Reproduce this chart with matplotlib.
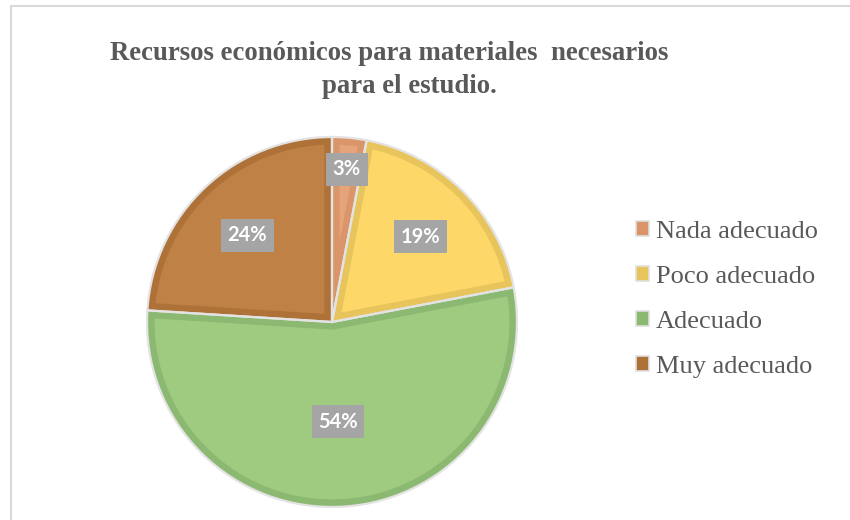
import matplotlib.pyplot as plt
from matplotlib.patches import Patch, Wedge
import numpy as np

# data
categorias = ["Nada adecuado", "Poco adecuado", "Adecuado", "Muy adecuado"]
porcentajes = [3, 19, 54, 24]
etiquetas = ["3%", "19%", "54%", "24%"]

relleno = ["#E5A47A", "#FDD868", "#9FCB80", "#BF8146"]
borde = ["#DA9669", "#E8C45C", "#8CB972", "#AE7239"]

W, H = 850, 520
fig = plt.figure(figsize=(W / 100, H / 100), dpi=100)

# chart frame (left and top edges visible)
fig.add_artist(plt.Rectangle((11 / W, -0.1), 1.2, 1 - 6 / H + 0.1, transform=fig.transFigure,
                             fill=False, edgecolor="#D9D9D9", linewidth=1.5))

# pie axes: center (332, 322) px, radius 185 px
cx, cy, r = 332, 322, 185
ax = fig.add_axes([(cx - r) / W, (H - cy - r) / H, 2 * r / W, 2 * r / H])

wedges, _ = ax.pie(porcentajes, colors=relleno, startangle=90, counterclock=False,
                   radius=1, wedgeprops=dict(linewidth=11))
ax.set_xlim(-1, 1)
ax.set_ylim(-1, 1)
ax.axis("off")

# darker inner border: stroke clipped to the wedge itself
for w, c in zip(wedges, borde):
    w.set_edgecolor(c)
    clip = Wedge(w.center, w.r, w.theta1, w.theta2, transform=ax.transData)
    w.set_clip_on(True)
    w.set_clip_path(clip)

# light separators / outline
ax.pie(porcentajes, colors=["none"] * 4, startangle=90, counterclock=False, radius=1,
       wedgeprops=dict(linewidth=1.6, edgecolor="#E3E3E3", fill=False, clip_on=False))
ax.set_xlim(-1, 1)
ax.set_ylim(-1, 1)

# data labels
dist = [0.85, 0.68, 0.52, 0.67]
for w, lab, d in zip(wedges, etiquetas, dist):
    ang = np.deg2rad((w.theta1 + w.theta2) / 2)
    ax.text(d * np.cos(ang), d * np.sin(ang) - 0.02, lab, ha="center", va="center",
            color="white", fontsize=14.5, fontweight="bold", family="Lato",
            bbox=dict(boxstyle="square,pad=0.33", facecolor="#A5A5A5", edgecolor="none"))

# title
fig.text(389 / W, 1 - 60 / H, "Recursos económicos para materiales  necesarios",
         ha="center", va="baseline", fontsize=19.3, fontweight="bold",
         family="Liberation Serif", color="#595959")
fig.text(409 / W, 1 - 93 / H, "para el estudio.",
         ha="center", va="baseline", fontsize=19.3, fontweight="bold",
         family="Liberation Serif", color="#595959")

# legend
handles = [Patch(facecolor=c, edgecolor="#E0E0E0", linewidth=1.2) for c in borde]
fig.legend(handles, categorias, loc="center left", bbox_to_anchor=(636 / W, 1 - 299.5 / H),
           frameon=False, prop=dict(family="Liberation Serif", size=19),
           labelcolor="#595959", handlelength=0.5, handleheight=0.5,
           handletextpad=0.25, labelspacing=0.88, borderpad=0, borderaxespad=0)

fig.savefig("out.png", dpi=100)
